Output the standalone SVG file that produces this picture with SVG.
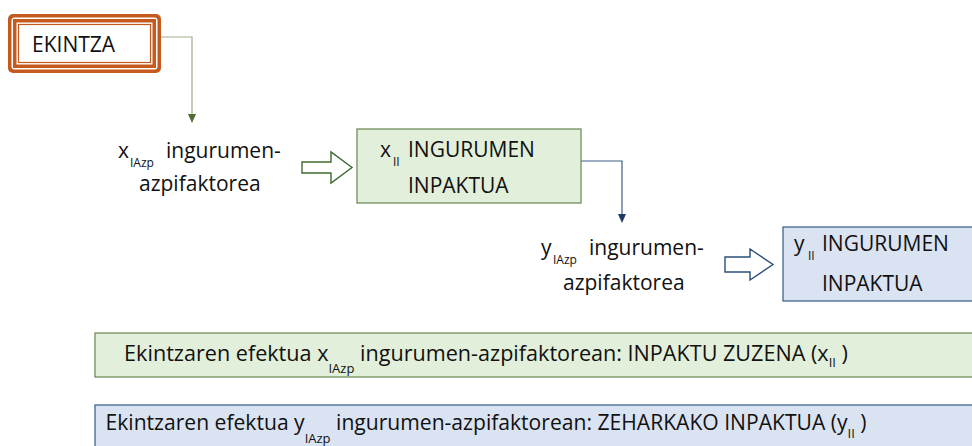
<svg xmlns="http://www.w3.org/2000/svg" width="972" height="446" viewBox="0 0 972 446">
  <style>
    text { font-family: "Open Sans", "Noto Sans", sans-serif; fill: #111; }
    .lbl { font-size: 21px; }
    .sub { font-size: 12px; }
    .band { font-size: 21.6px; }
    .band.narrow { font-size: 21.1px; }
    .bsub { font-size: 13px; }
    .green { fill: #E2EFDA; stroke: #708F5C; stroke-width: 1.3; }
    .blue { fill: #DAE3F1; stroke: #41658C; stroke-width: 1.3; }
  </style>
  <rect width="972" height="446" fill="#ffffff"/>

  <!-- connectors -->
  <g id="connectors" fill="none">
    <polyline points="161,37 192,37 192,115" stroke="#9BB08C" stroke-width="1.2"/>
    <path d="M188,114 L196,114 L192,123 Z" fill="#4E6B30" stroke="none"/>
    <polyline points="581,161 622,161 622,215" stroke="#3F5F85" stroke-width="1.2"/>
    <path d="M618,214 L626,214 L622,223 Z" fill="#1C3A63" stroke="none"/>
    <!-- hollow block arrows -->
    <path d="M302,162 L331,162 L331,152 L352,167.5 L331,183 L331,173 L302,173 Z" fill="#ffffff" stroke="#3E6B2E" stroke-width="1.4"/>
    <path d="M725,257 L750,257 L750,249 L773,264.5 L750,280 L750,272 L725,272 Z" fill="#ffffff" stroke="#2A4F78" stroke-width="1.4"/>
  </g>

  <!-- action box with compound orange border -->
  <g id="ekintza">
    <rect x="8" y="14" width="153" height="59" rx="5" fill="#C55A1E"/>
    <rect x="11.5" y="17.5" width="146" height="52" rx="3" fill="#ffffff"/>
    <rect x="13" y="19" width="143" height="49" fill="#C55A1E"/>
    <rect x="16.5" y="22.5" width="136" height="42" fill="#ffffff"/>
    <rect x="18.5" y="24.5" width="132" height="38" fill="#ffffff" stroke="#C55A1E" stroke-width="1.2"/>
    <text class="lbl" x="32" y="52">EKINTZA</text>
  </g>

  <!-- x sub-factor label -->
  <g id="x-subfactor">
    <text class="lbl" x="118" y="158">x</text>
    <text class="sub" x="130" y="167">IAzp</text>
    <text class="lbl" x="166" y="158">ingurumen-</text>
    <text class="lbl" x="139" y="191">azpifaktorea</text>
  </g>

  <!-- direct impact box -->
  <g id="x-impact">
    <rect class="green" x="357" y="129" width="224" height="74"/>
    <text class="lbl" x="380" y="157">x</text>
    <text class="sub" x="393" y="166">II</text>
    <text class="lbl" x="408" y="157">INGURUMEN</text>
    <text class="lbl" x="408" y="193">INPAKTUA</text>
  </g>

  <!-- y sub-factor label -->
  <g id="y-subfactor">
    <text class="lbl" x="541" y="255">y</text>
    <text class="sub" x="553" y="264">IAzp</text>
    <text class="lbl" x="589" y="255">ingurumen-</text>
    <text class="lbl" x="563" y="290">azpifaktorea</text>
  </g>

  <!-- indirect impact box -->
  <g id="y-impact">
    <rect class="blue" x="783" y="227" width="200" height="74"/>
    <text class="lbl" x="794" y="251">y</text>
    <text class="sub" x="808" y="260">II</text>
    <text class="lbl" x="822" y="251">INGURUMEN</text>
    <text class="lbl" x="822" y="291">INPAKTUA</text>
  </g>

  <!-- summary bands -->
  <g id="band-direct">
    <rect class="green" x="95" y="333" width="900" height="44"/>
    <text class="band" x="486" y="361" text-anchor="middle">Ekintzaren efektua x<tspan class="bsub" dy="12">IAzp</tspan><tspan dy="-12"> ingurumen-azpifaktorean: INPAKTU ZUZENA (x</tspan><tspan class="bsub" dy="6">II</tspan><tspan dy="-6"> )</tspan></text>
  </g>
  <g id="band-indirect">
    <rect class="blue" x="95" y="405" width="900" height="60"/>
    <text class="band narrow" x="486" y="430" text-anchor="middle">Ekintzaren efektua y<tspan class="bsub" dy="13">IAzp</tspan><tspan dy="-13"> ingurumen-azpifaktorean: ZEHARKAKO INPAKTUA (y</tspan><tspan class="bsub" dy="8">II</tspan><tspan dy="-8"> )</tspan></text>
  </g>
</svg>
